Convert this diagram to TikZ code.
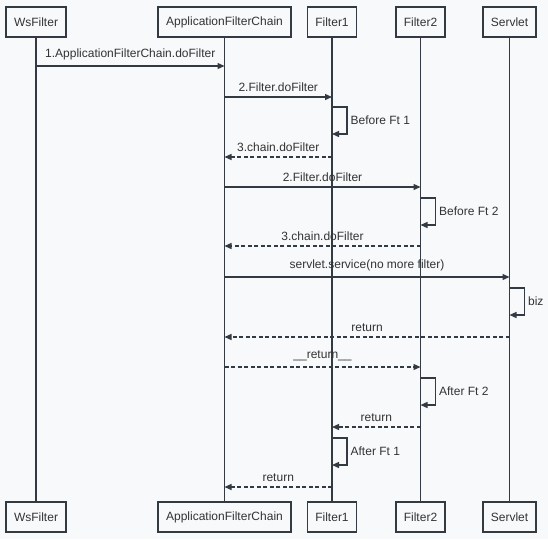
\documentclass[tikz,border=0pt]{standalone}
\usepackage{fontspec}
\setmainfont{Liberation Sans}
\usepackage{tikz}
\usetikzlibrary{positioning,arrows.meta}

\definecolor{bgcol}{RGB}{247,249,251}
\definecolor{linecol}{RGB}{51,58,66}
\definecolor{txtcol}{RGB}{51,51,51}

\begin{document}
\begin{tikzpicture}[x=1pt,y=-1pt,
		actor/.style={draw=linecol,line width=1.4pt,fill=bgcol,minimum height=30pt,inner xsep=8pt,text=txtcol,font=\fontsize{12}{14}\selectfont},
		life/.style={draw=linecol,line width=1.2pt},
		msg/.style={draw=linecol,line width=1.3pt,-{Triangle[length=7pt,width=6pt]}},
		ret/.style={msg,dash pattern=on 4pt off 2.5pt},
		lbl/.style={text=txtcol,font=\fontsize{12}{14}\selectfont,inner sep=2pt}]
		\useasboundingbox[fill=bgcol] (0,0) rectangle (548,539);
		\foreach \n/\x/\t in {ws/36/WsFilter, afc/224.5/ApplicationFilterChain, fa/332/Filter1, fb/420.5/Filter2, sv/509.5/Servlet}{
			\node[actor] (\n-top) at (\x,22) {\t};
			\node[actor] (\n-bot) at (\x,517) {\t};
			\draw[life] (\n-top) -- (\n-bot);
		}
		\foreach \a/\b/\y/\t/\s in {ws/afc/66/1.ApplicationFilterChain.doFilter/msg, afc/fa/97/2.Filter.doFilter/msg,
			fa/afc/157/3.chain.doFilter/ret, afc/fb/187/2.Filter.doFilter/msg, fb/afc/246/3.chain.doFilter/ret,
			afc/sv/277/servlet.service(no more filter)/msg, sv/afc/337/return/ret, afc/fb/367/\_\_return\_\_/ret,
			fb/fa/427/return/ret, fa/afc/487/return/ret}{
			\draw[\s] (\a-top |- 0,\y) -- node[lbl,above=3pt] {\t} (\b-top |- 0,\y);
		}
		\foreach \n/\y/\t in {fa/107/Before Ft 1, fb/198/Before Ft 2, sv/288/biz, fb/378/After Ft 2, fa/438/After Ft 1}{
			\draw[msg] (\n-top |- 0,\y) -- ++(15,0) -- node[lbl,right=1pt] {\t} ++(0,27) -- (\n-top |- 0,\y+27);
		}
\end{tikzpicture}
\end{document}
